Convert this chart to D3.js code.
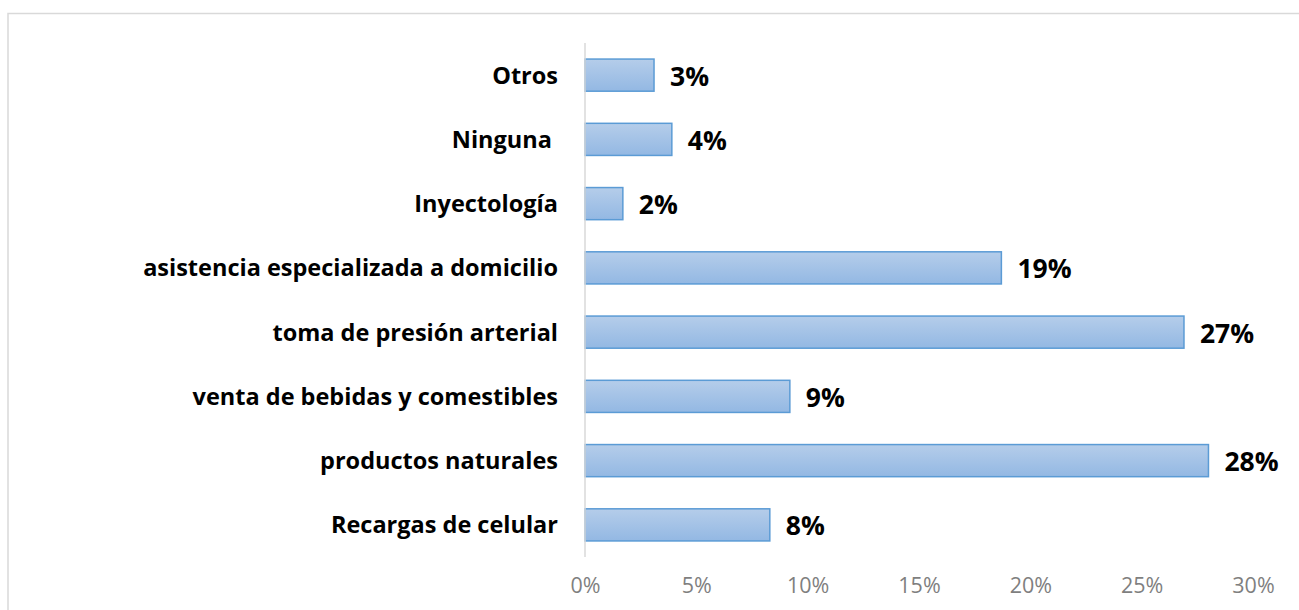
<!DOCTYPE html>
<html>
  <head>
    <meta charset="utf-8" />
    <script src="https://d3js.org/d3.v7.min.js"></script>
    <style>
      body { margin: 0; background: #fff; }
      text { font-family: "Open Sans", sans-serif; white-space: pre; }
    </style>
  </head>
  <body>
    <svg id="chart" width="1299" height="610"></svg>
    <script>
      var categories = [
        "Otros",
        "Ninguna ",
        "Inyectología",
        "asistencia especializada a domicilio",
        "toma de presión arterial",
        "venta de bebidas y comestibles",
        "productos naturales",
        "Recargas de celular",
      ];
      var values = [3.1, 3.9, 1.7, 18.7, 26.9, 9.2, 28.0, 8.3];
      var valueLabels = ["3%", "4%", "2%", "19%", "27%", "9%", "28%", "8%"];
      var ticks = [0, 5, 10, 15, 20, 25, 30];

      var svg = d3.select("#chart");
      var plotLeft = 585, plotRight = 1253, plotTop = 43, plotBottom = 557;

      // chart area border (only top and left visible)
      svg.append("path")
        .attr("d", "M8,1000 L8,13.5 L1300,13.5")
        .attr("fill", "none")
        .attr("stroke", "#d9d9d9")
        .attr("stroke-width", 1.5);

      var defs = svg.append("defs");
      var grad = defs.append("linearGradient")
        .attr("id", "barGrad")
        .attr("x1", 0).attr("y1", 0).attr("x2", 0).attr("y2", 1);
      grad.append("stop").attr("offset", "0%").attr("stop-color", "#b5cdea");
      grad.append("stop").attr("offset", "100%").attr("stop-color", "#93b8e3");

      var x = d3.scaleLinear().domain([0, 30]).range([plotLeft, plotRight]);
      var y = d3.scaleBand().domain(categories).range([plotTop, plotBottom]).paddingInner(0.5).paddingOuter(0.25);

      // x axis ticks (no line)
      var xAxis = svg.append("g")
        .attr("transform", "translate(0," + (plotBottom + 18) + ")")
        .call(d3.axisBottom(x).tickValues(ticks).tickSize(0).tickFormat(function (d) { return d + "%"; }));
      xAxis.select(".domain").remove();
      xAxis.selectAll("text")
        .style("font-family", "'Open Sans', sans-serif")
        .style("font-size", "21.5px")
        .style("fill", "#7f7f7f");

      // bars
      svg.selectAll("rect.bar")
        .data(values)
        .enter()
        .append("rect")
        .attr("class", "bar")
        .attr("x", x(0))
        .attr("y", function (d, i) { return y(categories[i]); })
        .attr("width", function (d) { return x(d) - x(0); })
        .attr("height", y.bandwidth())
        .attr("fill", "url(#barGrad)")
        .attr("stroke", "#5b9bd5")
        .attr("stroke-width", 1.5);

      // y axis line
      svg.append("line")
        .attr("x1", plotLeft).attr("x2", plotLeft)
        .attr("y1", plotTop).attr("y2", plotBottom)
        .attr("stroke", "#d9d9d9")
        .attr("stroke-width", 1.5);

      // category labels
      svg.selectAll("text.cat")
        .data(categories)
        .enter()
        .append("text")
        .attr("class", "cat")
        .attr("x", plotLeft - 27)
        .attr("y", function (d) { return y(d) + y.bandwidth() / 2; })
        .attr("dy", "0.36em")
        .attr("text-anchor", "end")
        .style("font-size", "23.5px")
        .style("font-weight", "bold")
        .style("fill", "#000")
        .text(function (d) { return d; });

      // value labels
      svg.selectAll("text.val")
        .data(values)
        .enter()
        .append("text")
        .attr("class", "val")
        .attr("x", function (d) { return x(d) + 16; })
        .attr("y", function (d, i) { return y(categories[i]) + y.bandwidth() / 2 + 1; })
        .attr("dy", "0.36em")
        .style("font-size", "26.5px")
        .style("font-weight", "bold")
        .style("fill", "#000")
        .text(function (d, i) { return valueLabels[i]; });
    </script>
  </body>
</html>
